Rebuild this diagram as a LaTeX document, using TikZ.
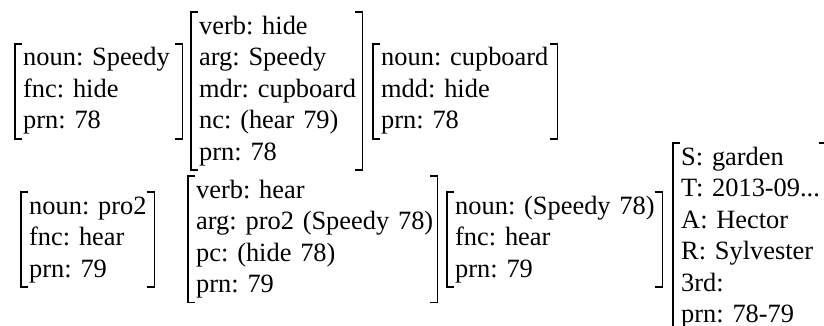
\documentclass[tikz,border=0pt]{standalone}
\usepackage{fontspec}
\setmainfont{Liberation Serif}
\frenchspacing
\begin{document}
\begin{tikzpicture}[x=1pt,y=-1pt,
  fs/.style={anchor=north west, inner xsep=8pt, inner ysep=0pt, align=left,
             font=\fontsize{26.4pt}{31.5pt}\selectfont\frenchspacing},
  brk/.style={line width=1.8pt, line join=miter},
  serif/.store in=\serif, serif=7pt]
\useasboundingbox (0,0) rectangle (824,326);
\clip (0,0) rectangle (824,326);

% first proplet row: hide / Speedy / cupboard
\node[fs, text width=151pt] (speedy) at (15,43.75)
  {\begin{tabular}[t]{@{}l@{}}noun: Speedy\\fnc: hide\\prn: 78\end{tabular}};
\node[fs, text width=155pt] (hide) at (191,12.25)
  {\begin{tabular}[t]{@{}l@{}}verb: hide\\arg: Speedy\\mdr: cupboard\\nc: (hear 79)\\prn: 78\end{tabular}};
\node[fs, text width=168pt] (cupboard) at (373,43.75)
  {\begin{tabular}[t]{@{}l@{}}noun: cupboard\\mdd: hide\\prn: 78\end{tabular}};

% second proplet row: hear / pro2 / coreference, plus context
\node[fs, text width=117pt] (protwo) at (21,191.75)
  {\begin{tabular}[t]{@{}l@{}}noun: pro2\\fnc: hear\\prn: 79\end{tabular}};
\node[fs, text width=233pt] (hear) at (188,176)
  {\begin{tabular}[t]{@{}l@{}}verb: hear\\arg: pro2 (Speedy 78)\\pc: (hide 78)\\prn: 79\end{tabular}};
\node[fs, text width=199pt] (speedyref) at (447,191.75)
  {\begin{tabular}[t]{@{}l@{}}noun: (Speedy 78)\\fnc: hear\\prn: 79\end{tabular}};
\node[fs, text width=137pt] (context) at (673,143)
  {\begin{tabular}[t]{@{}l@{}}S: garden\\T: 2013-09...\\A: Hector\\R: Sylvester\\3rd:\\prn: 78-79\end{tabular}};

% square brackets around every attribute-value matrix
\foreach \b in {speedy,hide,cupboard,protwo,hear,speedyref,context} {
  \draw[brk] ([xshift=\serif]\b.north west) -- (\b.north west)
             -- (\b.south west) -- ([xshift=\serif]\b.south west);
  \draw[brk] ([xshift=-\serif]\b.north east) -- (\b.north east)
             -- (\b.south east) -- ([xshift=-\serif]\b.south east);
}
\end{tikzpicture}
\end{document}
